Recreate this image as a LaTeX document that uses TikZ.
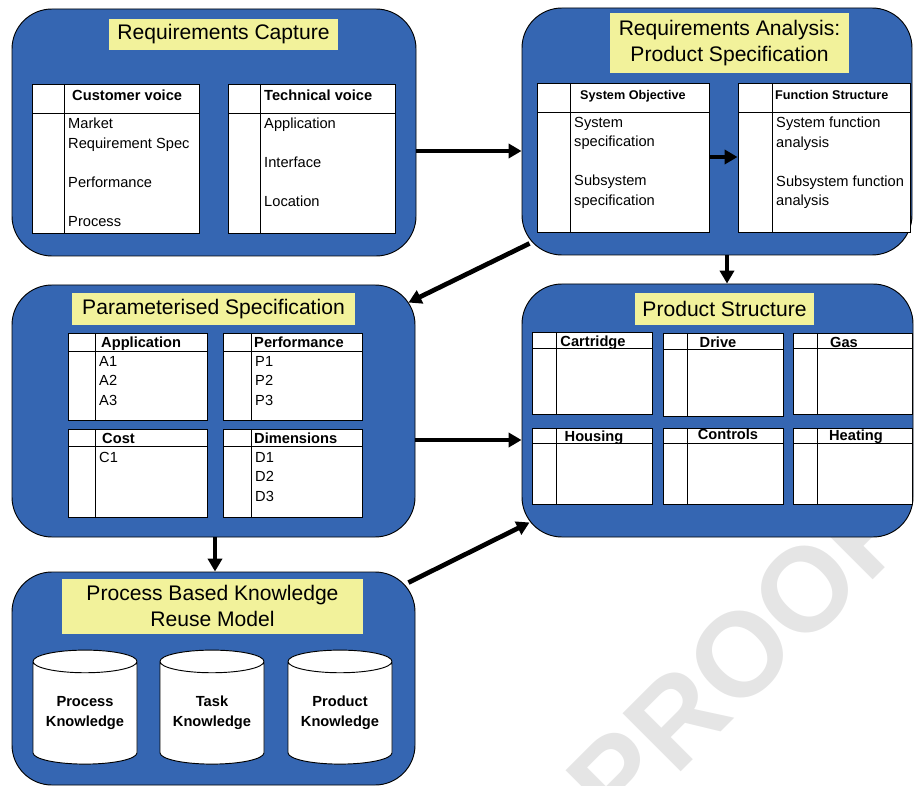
\documentclass[tikz,border=0pt]{standalone}
\usepackage{fontspec}
\setmainfont{Liberation Sans}
\usetikzlibrary{arrows.meta,fit,shapes.geometric}

\definecolor{blok}{HTML}{3566B2}
\definecolor{popisek}{HTML}{F2F29B}

% tabulka: jmeno, x1, y1, x2, y2, y hlavicky, x predelu
\newcommand{\tabulka}[7]{%
  \node[tab, fit={(#2,#3) (#4,#5)}] (#1) {};
  \draw[line width=0.8pt] (#2,#6) -- (#4,#6) (#7,#3) -- (#7,#5);
}

\begin{document}
\begin{tikzpicture}[x=0.3mm, y=-0.3mm,
    blokbox/.style={draw=black, line width=0.8pt, fill=blok, rounded corners=12mm, inner sep=0},
    tab/.style={draw=black, line width=0.8pt, fill=white, inner sep=0},
    nadpis/.style={fill=popisek, font=\fontsize{18}{21.5}\selectfont, align=center, inner sep=0},
    hlava/.style={font=\bfseries\fontsize{12.5}{15}\selectfont, anchor=base west, inner sep=0},
    obsah/.style={font=\fontsize{12.5}{16.6}\selectfont, align=left, anchor=north west, inner sep=0},
    db/.style={cylinder, shape border rotate=90, draw, line width=0.8pt, fill=white, aspect=0.29,
      minimum width=31.2mm, minimum height=34.2mm, align=center, inner sep=0,
      font=\bfseries\fontsize{12.5}{17}\selectfont},
    flow/.style={line width=4pt, -{Triangle[length=11pt, width=12pt]}}]
    \clip (0,0) rectangle (914,786);

    % vodoznak
    \node[rotate=45, text=black!10, font=\bfseries\fontsize{102}{110}\selectfont] (proof) at (740,655) {PROOF};

    % bloky
    \node[blokbox, fit={(12,9) (416,256)}] (capture) {};
    \node[blokbox, fit={(522,8) (912,255)}] (analysis) {};
    \node[blokbox, fit={(12,285) (415,537)}] (param) {};
    \node[blokbox, fit={(522,284) (913,537)}] (product) {};
    \node[blokbox, fit={(12,572) (415,785)}] (reuse) {};

    % nadpisy
    \node[nadpis, minimum width=68.7mm, minimum height=9.3mm] (t1) at (223.5,34.5) {Requirements Capture};
    \node[nadpis, minimum width=71.7mm, minimum height=18mm] (t2) at (729.5,43) {Requirements Analysis:\\Product Specification};
    \node[nadpis, minimum width=84.9mm, minimum height=9.3mm] (t3) at (213.5,309) {Parameterised Specification};
    \node[nadpis, minimum width=53.7mm, minimum height=9.3mm] (t4) at (724.5,309) {Product Structure};
    \node[nadpis, minimum width=90.3mm, minimum height=16.5mm] (t5) at (212.5,606) {Process Based Knowledge\\Reuse Model};

    % tabulky
    \tabulka{cv}{32}{84}{199}{233}{113}{64}
    \tabulka{tv}{228}{84}{395}{233}{113}{260}
    \tabulka{so}{537}{83}{709}{232}{112}{570}
    \tabulka{fs}{738}{83}{910}{232}{112}{772}
    \tabulka{app}{68}{333}{207}{420}{351}{95}
    \tabulka{perf}{223}{333}{362}{420}{351}{251}
    \tabulka{cost}{68}{429}{207}{517}{446}{95}
    \tabulka{dim}{223}{429}{362}{517}{446}{251}
    \tabulka{cart}{532}{332}{652}{414}{348}{556}
    \tabulka{drive}{663}{333}{783}{416}{349}{687}
    \tabulka{gas}{793}{333}{912}{414}{348}{817}
    \tabulka{hous}{532}{428}{652}{504}{443}{556}
    \tabulka{ctrl}{663}{428}{783}{504}{443}{687}
    \tabulka{heat}{793}{428}{912}{504}{443}{817}

    % hlavicky
    \node[hlava] (cvh) at (72,101) {Customer voice};
    \node[hlava] (tvh) at (264,101) {Technical voice};
    \node[hlava, font=\bfseries\fontsize{10.8}{13}\selectfont] (soh) at (580,100) {System Objective};
    \node[hlava, font=\bfseries\fontsize{10.8}{13}\selectfont] (fsh) at (775,100) {Function Structure};
    \node[hlava] (apph) at (101,347) {Application};
    \node[hlava] (perfh) at (254,347) {Performance};
    \node[hlava] (costh) at (102,443) {Cost};
    \node[hlava] (dimh) at (254,443) {Dimensions};
    \node[hlava, anchor=base] (carth) at (593,346) {Cartridge};
    \node[hlava, anchor=base] (driveh) at (718,347) {Drive};
    \node[hlava, anchor=base] (gash) at (844,347) {Gas};
    \node[hlava, anchor=base] (housh) at (594,441) {Housing};
    \node[hlava, anchor=base] (ctrlh) at (728,439) {Controls};
    \node[hlava, anchor=base] (heath) at (856,440) {Heating};

    % obsah tabulek
    \node[obsah] (cvt) at (68,118) {Market\\Requirement Spec\\[16.6pt]Performance\\[16.6pt]Process};
    \node[obsah] (tvt) at (264,118) {Application\\[16.6pt]Interface\\[16.6pt]Location};
    \node[obsah] (sot) at (574,117) {System\\specification\\[16.6pt]Subsystem\\specification};
    \node[obsah] (fst) at (776,117) {System function\\analysis\\[16.6pt]Subsystem function\\analysis};
    \node[obsah] (appt) at (99,356) {A1\\A2\\A3};
    \node[obsah] (perft) at (255,356) {P1\\P2\\P3};
    \node[obsah] (costt) at (99,452) {C1};
    \node[obsah] (dimt) at (255,452) {D1\\D2\\D3};

    % databaze
    \node[db] (proc) at (85,713) {Process\\Knowledge};
    \node[db] (task) at (212,713) {Task\\Knowledge};
    \node[db] (prod) at (340,713) {Product\\Knowledge};

    % sipky
    \draw[flow] (capture.east |- 0,151) -- (analysis.west |- 0,151);
    \draw[flow] (so.east |- 0,157) -- (fs.west |- 0,157);
    \draw[flow] ([shift={(8,-12)}]analysis.south west) -- ([shift={(-7,18)}]param.north east);
    \draw[flow] (727,0 |- analysis.south) -- (727,0 |- product.north);
    \draw[flow] (param.east |- 0,440) -- (product.west |- 0,440);
    \draw[flow] (215,0 |- param.south) -- (215,0 |- reuse.north);
    \draw[flow] ([shift={(-7,11)}]reuse.north east) -- ([shift={(8,-15)}]product.south west);
\end{tikzpicture}
\end{document}
